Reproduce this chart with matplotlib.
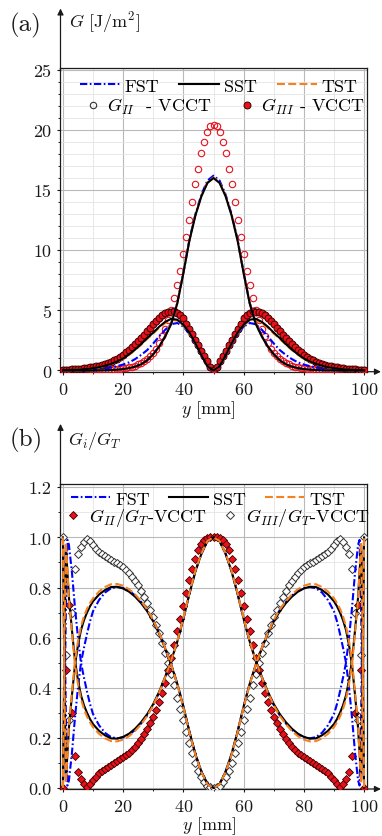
import matplotlib
matplotlib.use('Agg')
import matplotlib.pyplot as plt
from matplotlib.lines import Line2D
from matplotlib.ticker import MultipleLocator, FormatStrFormatter

plt.rcParams['font.family'] = 'serif'
plt.rcParams['font.serif'] = ['cmr10']
plt.rcParams['mathtext.fontset'] = 'cm'
plt.rcParams['axes.formatter.use_mathtext'] = True
plt.rcParams['axes.unicode_minus'] = False

# ---------------- data: panel (a) ----------------
xa = list(range(0, 101, 2))
FST_GII_a = [0, 0, 0, 0, 0.005, 0.01, 0.01, 0.02, 0.04, 0.07, 0.12, 0.2, 0.33, 0.53, 0.86, 1.37, 2.02, 2.88, 3.95, 5.65, 8.15, 10.9, 13.0, 14.65, 15.8, 16.2,
             15.8, 14.65, 13.0, 10.9, 8.15, 5.65, 3.95, 2.88, 2.02, 1.37, 0.86, 0.53, 0.33, 0.2, 0.12, 0.07, 0.04, 0.02, 0.01, 0.01, 0.005, 0, 0, 0, 0]
SST_GII_a = [0, 0, 0, 0, 0.005, 0.01, 0.01, 0.02, 0.04, 0.07, 0.12, 0.2, 0.32, 0.52, 0.85, 1.35, 2.0, 2.85, 3.9, 5.6, 8.1, 10.8, 12.9, 14.5, 15.6, 16.0,
             15.6, 14.5, 12.9, 10.8, 8.1, 5.6, 3.9, 2.85, 2.0, 1.35, 0.85, 0.52, 0.32, 0.2, 0.12, 0.07, 0.04, 0.02, 0.01, 0.01, 0.005, 0, 0, 0, 0]
TST_GII_a = [0, 0, 0, 0, 0.005, 0.01, 0.01, 0.02, 0.04, 0.07, 0.12, 0.2, 0.32, 0.52, 0.85, 1.35, 2.0, 2.86, 3.92, 5.62, 8.12, 10.82, 12.93, 14.55, 15.65, 16.05,
             15.65, 14.55, 12.93, 10.82, 8.12, 5.62, 3.92, 2.86, 2.0, 1.35, 0.85, 0.52, 0.32, 0.2, 0.12, 0.07, 0.04, 0.02, 0.01, 0.01, 0.005, 0, 0, 0, 0]
FST_GIII_a = [0.01, 0.01, 0.02, 0.03, 0.05, 0.07, 0.11, 0.17, 0.25, 0.36, 0.5, 0.68, 0.95, 1.3, 1.7, 2.25, 2.85, 3.4, 3.85, 3.95, 3.65, 3.05, 2.2, 1.25, 0.35, 0.0,
              0.35, 1.25, 2.2, 3.05, 3.65, 3.95, 3.85, 3.4, 2.85, 2.25, 1.7, 1.3, 0.95, 0.68, 0.5, 0.36, 0.25, 0.17, 0.11, 0.07, 0.05, 0.03, 0.02, 0.01, 0.01]
SST_GIII_a = [0.03, 0.04, 0.06, 0.09, 0.13, 0.2, 0.28, 0.4, 0.55, 0.75, 1.0, 1.35, 1.75, 2.2, 2.7, 3.15, 3.65, 4.05, 4.3, 4.22, 3.8, 3.15, 2.25, 1.25, 0.35, 0.0,
              0.35, 1.25, 2.25, 3.15, 3.8, 4.22, 4.3, 4.05, 3.65, 3.15, 2.7, 2.2, 1.75, 1.35, 1.0, 0.75, 0.55, 0.4, 0.28, 0.2, 0.13, 0.09, 0.06, 0.04, 0.03]
TST_GIII_a = [0.03, 0.04, 0.06, 0.09, 0.13, 0.19, 0.27, 0.38, 0.53, 0.72, 0.97, 1.31, 1.7, 2.15, 2.63, 3.08, 3.56, 3.95, 4.2, 4.15, 3.75, 3.12, 2.23, 1.24, 0.35, 0.0,
              0.35, 1.24, 2.23, 3.12, 3.75, 4.15, 4.2, 3.95, 3.56, 3.08, 2.63, 2.15, 1.7, 1.31, 0.97, 0.72, 0.53, 0.38, 0.27, 0.19, 0.13, 0.09, 0.06, 0.04, 0.03]

xv = list(range(0, 101))
GII_VCCT = [0.02, 0.02, 0.02, 0.02, 0.02, 0.02, 0.02, 0.02, 0.02, 0.02,
            0.03, 0.03, 0.04, 0.04, 0.05, 0.06, 0.07, 0.09, 0.11, 0.14,
            0.17, 0.21, 0.26, 0.32, 0.4, 0.5, 0.63, 0.78, 0.95, 1.18,
            1.45, 1.8, 2.25, 2.85, 3.45, 4.2, 5.06, 6.0, 7.07, 8.3,
            9.68, 11.1, 12.5, 14.0, 15.5, 16.75, 18.05, 19.0, 19.85, 20.3,
            20.45,
            20.3, 19.85, 19.0, 18.05, 16.75, 15.5, 14.0, 12.5, 11.1, 9.68,
            8.3, 7.07, 6.0, 5.06, 4.2, 3.45, 2.85, 2.25, 1.8, 1.45,
            1.18, 0.95, 0.78, 0.63, 0.5, 0.4, 0.32, 0.26, 0.21, 0.17,
            0.14, 0.11, 0.09, 0.07, 0.06, 0.05, 0.04, 0.04, 0.03, 0.03,
            0.02, 0.02, 0.02, 0.02, 0.02, 0.02, 0.02, 0.02, 0.02, 0.02]
GIII_VCCT = [0.06, 0.07, 0.08, 0.09, 0.11, 0.13, 0.15, 0.18, 0.21, 0.25,
             0.29, 0.34, 0.4, 0.47, 0.55, 0.64, 0.74, 0.85, 0.98, 1.13,
             1.3, 1.5, 1.72, 1.95, 2.18, 2.42, 2.68, 2.95, 3.25, 3.55,
             3.85, 4.15, 4.4, 4.6, 4.75, 4.85, 4.9, 4.92, 4.82, 4.62,
             4.35, 3.9, 3.45, 3.0, 2.55, 2.1, 1.65, 1.2, 0.75, 0.3,
             0.0,
             0.3, 0.75, 1.2, 1.65, 2.1, 2.55, 3.0, 3.45, 3.9, 4.35,
             4.62, 4.82, 4.92, 4.9, 4.85, 4.75, 4.6, 4.4, 4.15, 3.85,
             3.55, 3.25, 2.95, 2.68, 2.42, 2.18, 1.95, 1.72, 1.5, 1.3,
             1.13, 0.98, 0.85, 0.74, 0.64, 0.55, 0.47, 0.4, 0.34, 0.29,
             0.25, 0.21, 0.18, 0.15, 0.13, 0.11, 0.09, 0.08, 0.07, 0.06]

# ---------------- data: panel (b) ----------------
xb = [0, 0.5, 1, 1.5, 2, 3, 4, 5, 6, 7, 8, 9, 10, 12, 14, 16, 18, 20, 22, 24, 26, 28, 30, 32, 34, 36, 38, 40, 42, 44, 46, 48, 50,
      52, 54, 56, 58, 60, 62, 64, 66, 68, 70, 72, 74, 76, 78, 80, 82, 84, 86, 88, 90, 91, 92, 93, 94, 95, 96, 97, 98, 98.5, 99, 99.5, 100]
FST_GII_b = [0.0, 0.3, 0.72, 0.99, 0.97, 0.86, 0.72, 0.6, 0.5, 0.44, 0.385, 0.335, 0.295, 0.25, 0.22, 0.203, 0.198, 0.202, 0.213, 0.232, 0.258, 0.29, 0.331, 0.382, 0.443, 0.51, 0.585, 0.675, 0.775, 0.865, 0.935, 0.985, 1.0,
             0.985, 0.935, 0.865, 0.775, 0.675, 0.585, 0.51, 0.443, 0.382, 0.331, 0.29, 0.258, 0.232, 0.213, 0.202, 0.198, 0.203, 0.22, 0.25, 0.295, 0.335, 0.385, 0.44, 0.5, 0.6, 0.72, 0.86, 0.97, 0.99, 0.72, 0.3, 0.0]
FST_GIII_b = [1.0, 0.7, 0.28, 0.01, 0.03, 0.14, 0.28, 0.4, 0.5, 0.56, 0.615, 0.665, 0.705, 0.75, 0.78, 0.797, 0.802, 0.798, 0.787, 0.768, 0.742, 0.71, 0.669, 0.618, 0.557, 0.49, 0.415, 0.325, 0.225, 0.135, 0.065, 0.015, 0.0,
              0.015, 0.065, 0.135, 0.225, 0.325, 0.415, 0.49, 0.557, 0.618, 0.669, 0.71, 0.742, 0.768, 0.787, 0.798, 0.802, 0.797, 0.78, 0.75, 0.705, 0.665, 0.615, 0.56, 0.5, 0.4, 0.28, 0.14, 0.03, 0.01, 0.28, 0.7, 1.0]
SST_GII_b = [0.0, 0.55, 0.97, 0.86, 0.76, 0.63, 0.51, 0.43, 0.37, 0.33, 0.3, 0.275, 0.255, 0.228, 0.21, 0.198, 0.197, 0.204, 0.217, 0.237, 0.263, 0.295, 0.335, 0.385, 0.445, 0.51, 0.585, 0.675, 0.775, 0.865, 0.935, 0.985, 1.0,
             0.985, 0.935, 0.865, 0.775, 0.675, 0.585, 0.51, 0.445, 0.385, 0.335, 0.295, 0.263, 0.237, 0.217, 0.204, 0.197, 0.198, 0.21, 0.228, 0.255, 0.275, 0.3, 0.33, 0.37, 0.43, 0.51, 0.63, 0.76, 0.86, 0.97, 0.55, 0.0]
SST_GIII_b = [1.0, 0.45, 0.03, 0.14, 0.24, 0.37, 0.49, 0.57, 0.63, 0.67, 0.7, 0.725, 0.745, 0.772, 0.79, 0.802, 0.803, 0.796, 0.783, 0.763, 0.737, 0.705, 0.665, 0.615, 0.555, 0.49, 0.415, 0.325, 0.225, 0.135, 0.065, 0.015, 0.0,
              0.015, 0.065, 0.135, 0.225, 0.325, 0.415, 0.49, 0.555, 0.615, 0.665, 0.705, 0.737, 0.763, 0.783, 0.796, 0.803, 0.802, 0.79, 0.772, 0.745, 0.725, 0.7, 0.67, 0.63, 0.57, 0.49, 0.37, 0.24, 0.14, 0.03, 0.45, 1.0]
TST_GII_b = [0.0, 0.6, 0.98, 0.87, 0.75, 0.62, 0.495, 0.415, 0.355, 0.315, 0.285, 0.262, 0.243, 0.216, 0.198, 0.187, 0.186, 0.193, 0.207, 0.228, 0.255, 0.288, 0.33, 0.382, 0.443, 0.51, 0.587, 0.678, 0.778, 0.868, 0.937, 0.986, 1.0,
             0.986, 0.937, 0.868, 0.778, 0.678, 0.587, 0.51, 0.443, 0.382, 0.33, 0.288, 0.255, 0.228, 0.207, 0.193, 0.186, 0.187, 0.198, 0.216, 0.243, 0.262, 0.285, 0.315, 0.355, 0.415, 0.495, 0.62, 0.75, 0.87, 0.98, 0.6, 0.0]
TST_GIII_b = [1.0, 0.4, 0.02, 0.13, 0.25, 0.38, 0.505, 0.585, 0.645, 0.685, 0.715, 0.738, 0.757, 0.784, 0.802, 0.813, 0.814, 0.807, 0.793, 0.772, 0.745, 0.712, 0.67, 0.618, 0.557, 0.49, 0.413, 0.322, 0.222, 0.132, 0.063, 0.014, 0.0,
              0.014, 0.063, 0.132, 0.222, 0.322, 0.413, 0.49, 0.557, 0.618, 0.67, 0.712, 0.745, 0.772, 0.793, 0.807, 0.814, 0.813, 0.802, 0.784, 0.757, 0.738, 0.715, 0.685, 0.645, 0.585, 0.505, 0.38, 0.25, 0.13, 0.02, 0.4, 1.0]

GII_ratio = [0.0, 0.47, 0.73, 0.30, 0.127, 0.065, 0.037, 0.017, 0.005, 0.015,
             0.03, 0.045, 0.058, 0.068, 0.077, 0.085, 0.092, 0.099, 0.106, 0.114,
             0.122, 0.131, 0.141, 0.152, 0.165, 0.18, 0.197, 0.216, 0.237, 0.26,
             0.285, 0.313, 0.345, 0.38, 0.42, 0.47, 0.52, 0.57, 0.625, 0.675,
             0.725, 0.78, 0.83, 0.875, 0.915, 0.948, 0.972, 0.988, 0.996, 1.0,
             1.0,
             1.0, 0.996, 0.988, 0.972, 0.948, 0.915, 0.875, 0.83, 0.78, 0.725,
             0.675, 0.625, 0.57, 0.52, 0.47, 0.42, 0.38, 0.345, 0.313, 0.285,
             0.26, 0.237, 0.216, 0.197, 0.18, 0.165, 0.152, 0.141, 0.131, 0.122,
             0.114, 0.106, 0.099, 0.092, 0.085, 0.077, 0.068, 0.058, 0.045, 0.03,
             0.015, 0.005, 0.017, 0.037, 0.065, 0.127, 0.30, 0.73, 0.47, 0.0]
GIII_ratio = [1.0, 0.53, 0.27, 0.70, 0.873, 0.935, 0.963, 0.983, 0.995, 0.985,
              0.97, 0.955, 0.943, 0.933, 0.925, 0.917, 0.91, 0.903, 0.896, 0.888,
              0.88, 0.868, 0.856, 0.843, 0.827, 0.808, 0.786, 0.762, 0.737, 0.71,
              0.682, 0.652, 0.618, 0.58, 0.54, 0.5, 0.455, 0.41, 0.36, 0.315,
              0.27, 0.225, 0.18, 0.138, 0.1, 0.068, 0.042, 0.022, 0.009, 0.002,
              0.0,
              0.002, 0.009, 0.022, 0.042, 0.068, 0.1, 0.138, 0.18, 0.225, 0.27,
              0.315, 0.36, 0.41, 0.455, 0.5, 0.54, 0.58, 0.618, 0.652, 0.682,
              0.71, 0.737, 0.762, 0.786, 0.808, 0.827, 0.843, 0.856, 0.868, 0.88,
              0.888, 0.896, 0.903, 0.91, 0.917, 0.925, 0.933, 0.943, 0.955, 0.97,
              0.985, 0.995, 0.983, 0.963, 0.935, 0.873, 0.70, 0.27, 0.53, 1.0]

# ---------------- styling ----------------
W, H = 382, 837
fig = plt.figure(figsize=(W / 100, H / 100), dpi=100)
fig.patch.set_facecolor('white')

def px_rect(l, t, r, b):
    return [l / W, 1 - b / H, (r - l) / W, (b - t) / H]

C_FST = '#0000ff'
C_SST = '#000000'
C_TST = '#f5821f'
LS_FST = (0, (3.5, 1.2, 0.8, 1.2))
LS_TST = (0, (3.8, 1.6))
LW = 1.5
FS = 13
RED = '#e8101a'

def style_axes(ax, ylim, ymaj, ymin, yfmt):
    ax.set_xlim(-0.8, 100.8)
    ax.set_ylim(*ylim)
    ax.xaxis.set_major_locator(MultipleLocator(20))
    ax.xaxis.set_minor_locator(MultipleLocator(10))
    ax.yaxis.set_major_locator(MultipleLocator(ymaj))
    ax.yaxis.set_minor_locator(MultipleLocator(ymin))
    ax.yaxis.set_major_formatter(FormatStrFormatter(yfmt))
    ax.grid(which='major', color='#b9b9b9', lw=0.8)
    ax.grid(which='minor', color='#e4e4e4', lw=0.6)
    ax.set_axisbelow(True)
    ax.tick_params(which='major', direction='out', length=2.5, width=0.8, labelsize=FS, pad=4, colors='#1a1a1a')
    ax.tick_params(which='minor', direction='out', length=1.5, width=0.6)
    for s in ax.spines.values():
        s.set_linewidth(0.9)
        s.set_color('#1a1a1a')
    ax.annotate('', xy=(0, 1.197), xytext=(0, 0.99), xycoords='axes fraction',
                arrowprops=dict(arrowstyle='-|>', lw=0.9, color='#1a1a1a', mutation_scale=9, shrinkA=0, shrinkB=0))
    ax.annotate('', xy=(1.047, 0), xytext=(0.99, 0), xycoords='axes fraction',
                arrowprops=dict(arrowstyle='-|>', lw=0.9, color='#1a1a1a', mutation_scale=9, shrinkA=0, shrinkB=0))

# ---------------- panel (a) ----------------
ax = fig.add_axes(px_rect(60.5, 69.3, 366.5, 372.7))
style_axes(ax, (-0.1, 25.13), 5, 1, '%d')
ax.plot(xv, GII_VCCT, 'o', ms=4.6, mfc='none', mec=RED, mew=0.8, zorder=3)
ax.plot(xv, GIII_VCCT, 'o', ms=5.0, mfc=RED, mec='#3a0000', mew=0.7, zorder=3)
ax.plot(xa, FST_GII_a, color=C_FST, ls=LS_FST, lw=LW, zorder=4)
ax.plot(xa, FST_GIII_a, color=C_FST, ls=LS_FST, lw=LW, zorder=4)
ax.plot(xa, SST_GII_a, color=C_SST, ls='-', lw=LW, zorder=5)
ax.plot(xa, SST_GIII_a, color=C_SST, ls='-', lw=LW, zorder=5)
ax.plot(xa, TST_GII_a, color=C_TST, ls=LS_TST, lw=LW, zorder=4.5)
ax.plot(xa, TST_GIII_a, color=C_TST, ls=LS_TST, lw=LW, zorder=4.5)

h_lines = [Line2D([], [], color=C_FST, ls=LS_FST, lw=LW),
           Line2D([], [], color=C_SST, ls='-', lw=LW),
           Line2D([], [], color=C_TST, ls=LS_TST, lw=LW)]
leg1 = ax.legend(h_lines, ['FST', 'SST', 'TST'], loc='center left', bbox_to_anchor=(0.064, 0.942),
                 ncol=3, frameon=False, fontsize=FS, handlelength=2.2, handletextpad=0.28,
                 columnspacing=1.1, borderpad=0, borderaxespad=0)
ax.add_artist(leg1)
h_mk = [Line2D([], [], ls='none', marker='o', ms=4.6, mfc='none', mec='#333333', mew=0.8),
        Line2D([], [], ls='none', marker='o', ms=5.0, mfc=RED, mec='#3a0000', mew=0.7)]
ax.legend(h_mk, [r'$G_{II}$  - VCCT', r'$G_{III}$ - VCCT'], loc='center left', bbox_to_anchor=(0.083, 0.876),
          ncol=2, frameon=False, fontsize=FS, handlelength=0.8, handletextpad=0.38,
          columnspacing=1.55, borderpad=0, borderaxespad=0)

# ---------------- panel (b) ----------------
bx = fig.add_axes(px_rect(60.5, 485, 366.5, 790))
style_axes(bx, (-0.004, 1.213), 0.2, 0.1, '%.1f')
bx.plot(xv, GIII_ratio, 'D', ms=4.2, mfc='white', mec='#333333', mew=0.7, zorder=3)
bx.plot(xv, GII_ratio, 'D', ms=4.2, mfc=RED, mec='#3a0000', mew=0.6, zorder=3.2)
bx.plot(xb, FST_GII_b, color=C_FST, ls=LS_FST, lw=LW, zorder=4)
bx.plot(xb, FST_GIII_b, color=C_FST, ls=LS_FST, lw=LW, zorder=4)
bx.plot(xb, SST_GII_b, color=C_SST, ls='-', lw=LW, zorder=4.5)
bx.plot(xb, SST_GIII_b, color=C_SST, ls='-', lw=LW, zorder=4.5)
bx.plot(xb, TST_GII_b, color=C_TST, ls=LS_TST, lw=LW, zorder=5)
bx.plot(xb, TST_GIII_b, color=C_TST, ls=LS_TST, lw=LW, zorder=5)

leg2 = bx.legend(h_lines, ['FST', 'SST', 'TST'], loc='center left', bbox_to_anchor=(0.034, 0.951),
                 ncol=3, frameon=False, fontsize=FS, handlelength=2.17, handletextpad=0.28,
                 columnspacing=1.05, borderpad=0, borderaxespad=0)
bx.add_artist(leg2)
h_mk_b = [Line2D([], [], ls='none', marker='D', ms=4.2, mfc=RED, mec='#3a0000', mew=0.6),
          Line2D([], [], ls='none', marker='D', ms=4.2, mfc='white', mec='#333333', mew=0.7)]
bx.legend(h_mk_b, [r'$G_{II}/G_T$-VCCT', r'$G_{III}/G_T$-VCCT'], loc='center left', bbox_to_anchor=(0.017, 0.892),
          ncol=2, frameon=False, fontsize=FS, handlelength=0.8, handletextpad=0.49,
          columnspacing=0.88, borderpad=0, borderaxespad=0)

# ---------------- labels ----------------
TC = '#1a1a1a'
fig.text(10 / W, 1 - 25 / H, '(a)', fontsize=18, va='center', ha='left', color=TC)
fig.text(69 / W, 1 - 27 / H, r'$G\ [\mathrm{J/m^2}]$', fontsize=FS, va='baseline', ha='left', color=TC)
fig.text(208 / W, 1 - 414 / H, r'$y\ [\mathrm{mm}]$', fontsize=FS, va='baseline', ha='center', color=TC)
fig.text(10 / W, 1 - 440 / H, '(b)', fontsize=18, va='center', ha='left', color=TC)
fig.text(68 / W, 1 - 445 / H, r'$G_i/G_T$', fontsize=FS, va='baseline', ha='left', color=TC)
fig.text(209 / W, 1 - 830 / H, r'$y\ [\mathrm{mm}]$', fontsize=FS, va='baseline', ha='center', color=TC)

fig.savefig('out.png', dpi=100, facecolor='white')
